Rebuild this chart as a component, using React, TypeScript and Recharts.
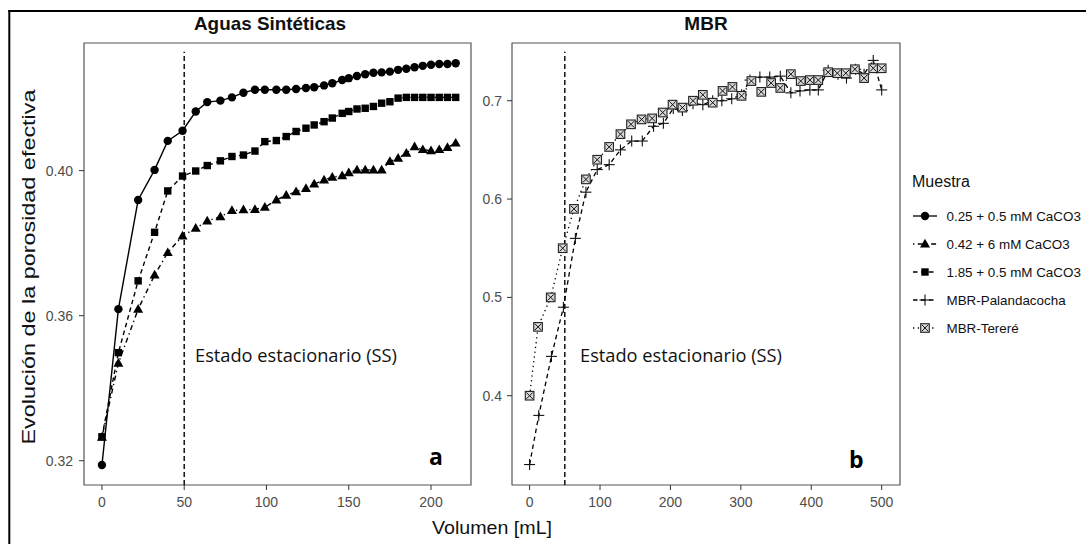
import React from 'react';
import { LineChart, Line, XAxis, YAxis, ReferenceLine, ReferenceArea } from 'recharts';

// ---- panel a: Aguas Sintéticas ----
const volA = [0, 10, 22, 32, 40, 49, 57, 64, 72, 79, 86, 93, 99, 106, 112, 118, 124, 129, 135, 140, 146, 150, 155, 160, 165, 170, 175, 180, 185, 190, 195, 200, 205, 210, 215];
const serie025 = [0.3188, 0.3618, 0.3919, 0.4002, 0.4082, 0.411, 0.4163, 0.4189, 0.4193, 0.4202, 0.4215, 0.4223, 0.4223, 0.4223, 0.4223, 0.4225, 0.4228, 0.423, 0.4235, 0.4241, 0.425, 0.4255, 0.4261, 0.4266, 0.427, 0.4271, 0.4273, 0.4278, 0.4281, 0.4285, 0.4289, 0.4292, 0.4294, 0.4294, 0.4296];
const serie042 = [0.3265, 0.3469, 0.3618, 0.3712, 0.3774, 0.382, 0.3841, 0.3861, 0.3873, 0.389, 0.3892, 0.3893, 0.3899, 0.3919, 0.3932, 0.3942, 0.3951, 0.3963, 0.3974, 0.3982, 0.3986, 0.3994, 0.4002, 0.4002, 0.4002, 0.4002, 0.4025, 0.4034, 0.4048, 0.4066, 0.4058, 0.4055, 0.4058, 0.4064, 0.4076];
const serie185 = [0.3266, 0.3498, 0.3696, 0.383, 0.3944, 0.3985, 0.3999, 0.4014, 0.4027, 0.4039, 0.4043, 0.4054, 0.408, 0.4083, 0.4094, 0.4108, 0.4117, 0.4126, 0.4135, 0.4145, 0.4158, 0.4163, 0.417, 0.4172, 0.4177, 0.4186, 0.419, 0.42, 0.4202, 0.4202, 0.4202, 0.4202, 0.4202, 0.4202, 0.4202];

// ---- panel b: MBR ----
const volPal = [0, 13, 31, 48, 65, 80, 96, 113, 129, 145, 160, 176, 190, 204, 217, 232, 246, 260, 273, 287, 301, 313, 327, 341, 356, 371, 384, 398, 410, 424, 438, 450, 463, 475, 488, 500];
const palandacocha = [0.33, 0.38, 0.44, 0.49, 0.56, 0.607, 0.63, 0.635, 0.65, 0.659, 0.659, 0.674, 0.677, 0.692, 0.69, 0.697, 0.696, 0.7, 0.7, 0.702, 0.706, 0.721, 0.724, 0.724, 0.725, 0.708, 0.71, 0.711, 0.711, 0.731, 0.727, 0.723, 0.732, 0.727, 0.741, 0.711];
const volTer = [0, 12, 30, 47, 63, 80, 96, 113, 129, 144, 159, 174, 189, 203, 217, 232, 246, 260, 274, 288, 301, 315, 329, 343, 356, 371, 385, 398, 410, 424, 437, 449, 462, 475, 488, 500];
const terere = [0.4, 0.47, 0.5, 0.55, 0.59, 0.62, 0.64, 0.653, 0.666, 0.676, 0.681, 0.682, 0.688, 0.696, 0.693, 0.7, 0.706, 0.698, 0.71, 0.714, 0.705, 0.72, 0.709, 0.718, 0.713, 0.727, 0.72, 0.721, 0.721, 0.729, 0.728, 0.728, 0.732, 0.723, 0.733, 0.733];

const ticksXa = [0, 50, 100, 150, 200];
const ticksYa = [0.32, 0.36, 0.4];
const ticksXb = [0, 100, 200, 300, 400, 500];
const ticksYb = [0.4, 0.5, 0.6, 0.7];
const seriesNames = ['0.25 + 0.5 mM CaCO3', '0.42 + 6 mM CaCO3', '1.85 + 0.5 mM CaCO3', 'MBR-Palandacocha', 'MBR-Tereré'];

const domXa: [number, number] = [-10.9, 224.3];
const domYa: [number, number] = [0.3133, 0.4352];
const domXb: [number, number] = [-25, 526];
const domYb: [number, number] = [0.3092, 0.7587];

const rowsA = volA.map((x, i) => ({ x, c: serie025[i], t: serie042[i], s: serie185[i] }));
const rowsPal = volPal.map((x, i) => ({ x, y: palandacocha[i] }));
const rowsTer = volTer.map((x, i) => ({ x, y: terere[i] }));

const FONT = '"Liberation Sans", Arial, sans-serif';
const tickStyle = { fontSize: 14, fill: '#4d4d4d', fontFamily: FONT };

// marker shapes
const circleMark = (cx: number, cy: number, k?: any) => <circle key={k} cx={cx} cy={cy} r={4.2} fill="#000" />;
const squareMark = (cx: number, cy: number, k?: any) => <rect key={k} x={cx - 3.7} y={cy - 3.7} width={7.4} height={7.4} fill="#000" />;
const triMark = (cx: number, cy: number, k?: any) => (
  <path key={k} d={`M${cx},${cy - 5.2} L${cx + 5},${cy + 3.5} L${cx - 5},${cy + 3.5} Z`} fill="#000" />
);
const plusMark = (cx: number, cy: number, k?: any) => (
  <g key={k} stroke="#111" strokeWidth={1.1}>
    <line x1={cx - 5.5} y1={cy} x2={cx + 5.5} y2={cy} />
    <line x1={cx} y1={cy - 5.5} x2={cx} y2={cy + 5.5} />
  </g>
);
const sqxMark = (cx: number, cy: number, k?: any) => (
  <g key={k}>
    <rect x={cx - 4.3} y={cy - 4.3} width={8.6} height={8.6} fill="#d9d9d9" stroke="#222" strokeWidth={1.1} />
    <line x1={cx - 3.2} y1={cy - 3.2} x2={cx + 3.2} y2={cy + 3.2} stroke="#111" strokeWidth={1} />
    <line x1={cx - 3.2} y1={cy + 3.2} x2={cx + 3.2} y2={cy - 3.2} stroke="#111" strokeWidth={1} />
  </g>
);

const dotOf = (fn: typeof circleMark, tag: string) => (p: any) => fn(p.cx, p.cy, `${tag}${p.index}`);

const DASH = {
  solid: undefined as string | undefined,
  dotdash: '1.3 3.5 5 3.5',
  dashed: '4.5 3.5',
  dotted: '1.3 3.5',
};

const legendKeys = [
  { dash: DASH.solid, mark: circleMark },
  { dash: DASH.dotdash, mark: triMark },
  { dash: DASH.dashed, mark: squareMark },
  { dash: DASH.dashed, mark: plusMark },
  { dash: DASH.dotted, mark: sqxMark },
];

export default function App() {
  return (
    <div style={{ position: 'absolute', left: 0, top: 0, width: 1086, height: 544, background: '#fff', overflow: 'hidden' }}>
      <div style={{ position: 'absolute', left: 0, top: 0 }}>
        <LineChart width={480} height={544} data={rowsA} margin={{ top: 43, right: 9, bottom: 29, left: 34 }}>
          <XAxis dataKey="x" type="number" domain={domXa} ticks={ticksXa} allowDataOverflow axisLine={false}
            tickLine={{ stroke: '#333' }} tickSize={5} tickMargin={7} height={30} tick={tickStyle} />
          <YAxis type="number" domain={domYa} ticks={ticksYa} allowDataOverflow axisLine={false}
            tickLine={{ stroke: '#333' }} tickSize={5} tickMargin={6} width={50} tick={tickStyle}
            tickFormatter={(v: number) => v.toFixed(2)} />
          <ReferenceArea x1={domXa[0]} x2={domXa[1]} y1={domYa[0]} y2={domYa[1]} fill="none" fillOpacity={0} stroke="#555" strokeWidth={1.2} />
          <ReferenceLine segment={[{ x: 50, y: domYa[0] }, { x: 50, y: 0.4328 }]} stroke="#000" strokeWidth={1.4} strokeDasharray="5 3" />
          <Line dataKey="c" stroke="#000" strokeWidth={1.4} dot={dotOf(circleMark, 'c')} isAnimationActive={false} />
          <Line dataKey="s" stroke="#000" strokeWidth={1.4} strokeDasharray={DASH.dashed} dot={dotOf(squareMark, 's')} isAnimationActive={false} />
          <Line dataKey="t" stroke="#000" strokeWidth={1.4} strokeDasharray={DASH.dotdash} dot={dotOf(triMark, 't')} isAnimationActive={false} />
        </LineChart>
      </div>
      <div style={{ position: 'absolute', left: 480, top: 0 }}>
        <LineChart width={430} height={544} margin={{ top: 43, right: 10, bottom: 29, left: 2 }}>
          <XAxis dataKey="x" type="number" domain={domXb} ticks={ticksXb} allowDataOverflow axisLine={false}
            tickLine={{ stroke: '#333' }} tickSize={5} tickMargin={7} height={30} tick={tickStyle} />
          <YAxis type="number" domain={domYb} ticks={ticksYb} allowDataOverflow axisLine={false}
            tickLine={{ stroke: '#333' }} tickSize={5} tickMargin={5} width={30} tick={tickStyle}
            tickFormatter={(v: number) => v.toFixed(1)} />
          <ReferenceArea x1={domXb[0]} x2={domXb[1]} y1={domYb[0]} y2={domYb[1]} fill="none" fillOpacity={0} stroke="#555" strokeWidth={1.2} />
          <ReferenceLine segment={[{ x: 50, y: domYb[0] }, { x: 50, y: 0.7498 }]} stroke="#000" strokeWidth={1.4} strokeDasharray="5 3" />
          <Line data={rowsPal} dataKey="y" stroke="#000" strokeWidth={1.3} strokeDasharray={DASH.dashed} dot={dotOf(plusMark, 'p')} isAnimationActive={false} />
          <Line data={rowsTer} dataKey="y" stroke="#000" strokeWidth={1.3} strokeDasharray={DASH.dotted} dot={dotOf(sqxMark, 'q')} isAnimationActive={false} />
        </LineChart>
      </div>
      <svg width={1086} height={544} style={{ position: 'absolute', left: 0, top: 0, pointerEvents: 'none' }}>
        <line x1={9.3} y1={10} x2={9.3} y2={544} stroke="#000" strokeWidth={2} />
        <line x1={8.3} y1={11} x2={1086} y2={11} stroke="#000" strokeWidth={2} />
        <text x={194} y={29.5} fontFamily={FONT} fontWeight={700} fontSize={19} fill="#111" textLength={152} lengthAdjust="spacingAndGlyphs">Aguas Sintéticas</text>
        <text x={706} y={29.5} fontFamily={FONT} fontWeight={700} fontSize={19} fill="#111" textAnchor="middle">MBR</text>
        <text x={195} y={361.5} fontFamily='"Open Sans", sans-serif' fontSize={19} fill="#111" textLength={202} lengthAdjust="spacingAndGlyphs">Estado estacionario (SS)</text>
        <text x={580} y={361.5} fontFamily='"Open Sans", sans-serif' fontSize={19} fill="#111" textLength={202} lengthAdjust="spacingAndGlyphs">Estado estacionario (SS)</text>
        <text x={429} y={465} fontFamily='"Open Sans", sans-serif' fontWeight={700} fontSize={23} fill="#000">a</text>
        <text x={849} y={467.5} fontFamily='"Open Sans", sans-serif' fontWeight={700} fontSize={23} fill="#000">b</text>
        <text x={492} y={533.5} fontFamily={FONT} fontSize={19} fill="#111" textAnchor="middle" textLength={120} lengthAdjust="spacingAndGlyphs">Volumen [mL]</text>
        <text transform="translate(35,267) rotate(-90)" x={0} y={0} fontFamily={FONT} fontSize={18} fill="#111" textAnchor="middle" textLength={355} lengthAdjust="spacingAndGlyphs">Evolución de la porosidad efectiva</text>
        <text x={912} y={187} fontFamily={FONT} fontSize={16} fill="#111">Muestra</text>
        {seriesNames.map((name, i) => {
          const cy = 216 + i * 28;
          const k = legendKeys[i];
          return (
            <g key={name}>
              <line x1={913} y1={cy} x2={937} y2={cy} stroke="#000" strokeWidth={1.3} strokeDasharray={k.dash} />
              {k.mark(925, cy)}
              <text x={946.5} y={cy + 4.8} fontFamily={FONT} fontSize={13.4} fill="#111">{name}</text>
            </g>
          );
        })}
      </svg>
    </div>
  );
}
